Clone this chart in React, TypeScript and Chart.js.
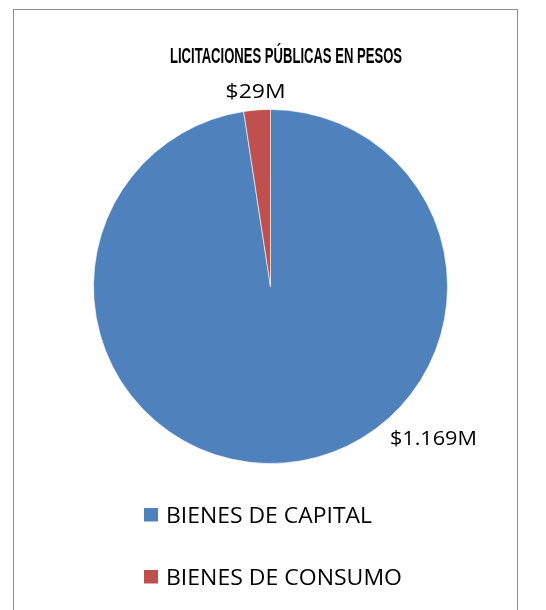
import React, { useEffect, useRef } from "react";
import { Chart, registerables } from "chart.js";

Chart.register(...registerables);

const titleText = "LICITACIONES PÚBLICAS EN PESOS";
const categories = ["BIENES DE CAPITAL", "BIENES DE CONSUMO"];
const values = [1169, 29];
const valueLabels = ["$1.169M", "$29M"];
const colors = ["#4F81BD", "#C0504D"];

const W = 546;
const H = 610;

function fitText(ctx: CanvasRenderingContext2D, text: string, x: number, y: number, width: number, align: "left" | "center") {
  const w = ctx.measureText(text).width;
  const s = width / w;
  ctx.save();
  const left = align === "center" ? x - width / 2 : x;
  ctx.translate(left, y);
  ctx.scale(s, 1);
  ctx.textAlign = "left";
  ctx.fillText(text, 0, 0);
  ctx.restore();
}

const overlayPlugin = {
  id: "overlay",
  afterDraw(chart: any) {
    const ctx = chart.ctx as CanvasRenderingContext2D;
    ctx.save();
    ctx.fillStyle = "#000";
    ctx.textBaseline = "alphabetic";
    // title
    ctx.font = "bold 22px 'Liberation Sans', Arial, sans-serif";
    fitText(ctx, titleText, 286, 62.5, 232, "center");

    // data labels
    const meta = chart.getDatasetMeta(0);
    ctx.font = "20px 'Open Sans', 'Liberation Sans', sans-serif";
    const labelWidths = [87, 60];
    meta.data.forEach((arc: any, i: number) => {
      const r = arc.outerRadius;
      const cx = arc.x;
      const cy = arc.y;
      let x: number, y: number;
      if (i === 0) {
        const a = 0.747;
        x = cx + Math.cos(a) * (r + 45);
        y = cy + Math.sin(a) * (r + 45) + 8;
      } else {
        const mid = (arc.startAngle + arc.endAngle) / 2;
        x = cx + Math.cos(mid) * (r + 20);
        y = cy - r - 12;
      }
      fitText(ctx, valueLabels[i], x, y, labelWidths[i], "center");
    });

    // legend
    ctx.font = "21px 'Open Sans', 'Liberation Sans', sans-serif";
    const legendX = 144;
    const legendBase = [522.5, 584.5];
    const legendWidths = [206, 236];
    categories.forEach((c, i) => {
      ctx.fillStyle = colors[i];
      ctx.fillRect(legendX, legendBase[i] - 14.5, 14, 13.5);
      ctx.fillStyle = "#000";
      fitText(ctx, c, legendX + 22, legendBase[i], legendWidths[i], "left");
    });
    ctx.restore();
  },
};

export default function App() {
  const ref = useRef<HTMLCanvasElement>(null);
  useEffect(() => {
    if (!ref.current) return;
    const chart = new Chart(ref.current, {
      type: "pie",
      data: {
        labels: categories,
        datasets: [
          {
            data: values,
            backgroundColor: colors,
            borderColor: "rgba(255,255,255,0.6)",
            borderWidth: 1,
          },
        ],
      },
      options: {
        animation: false,
        responsive: false,
        maintainAspectRatio: false,
        layout: {
          padding: { left: 93, right: 98, top: 109, bottom: 146 },
        },
        plugins: {
          legend: { display: false },
          title: { display: false },
          tooltip: { enabled: false },
        },
      },
      plugins: [overlayPlugin],
    });
    return () => chart.destroy();
  }, []);

  return (
    <div style={{ position: "fixed", left: 0, top: 0, width: W, height: H, background: "#fff", overflow: "hidden" }}>
      <canvas ref={ref} width={W} height={H} style={{ position: "absolute", left: 0, top: 0, width: W, height: H }} />
      <div
        style={{
          position: "absolute",
          left: 13,
          top: 9,
          width: 503,
          height: 700,
          border: "1.5px solid #8c8c8c",
          pointerEvents: "none",
        }}
      />
    </div>
  );
}
